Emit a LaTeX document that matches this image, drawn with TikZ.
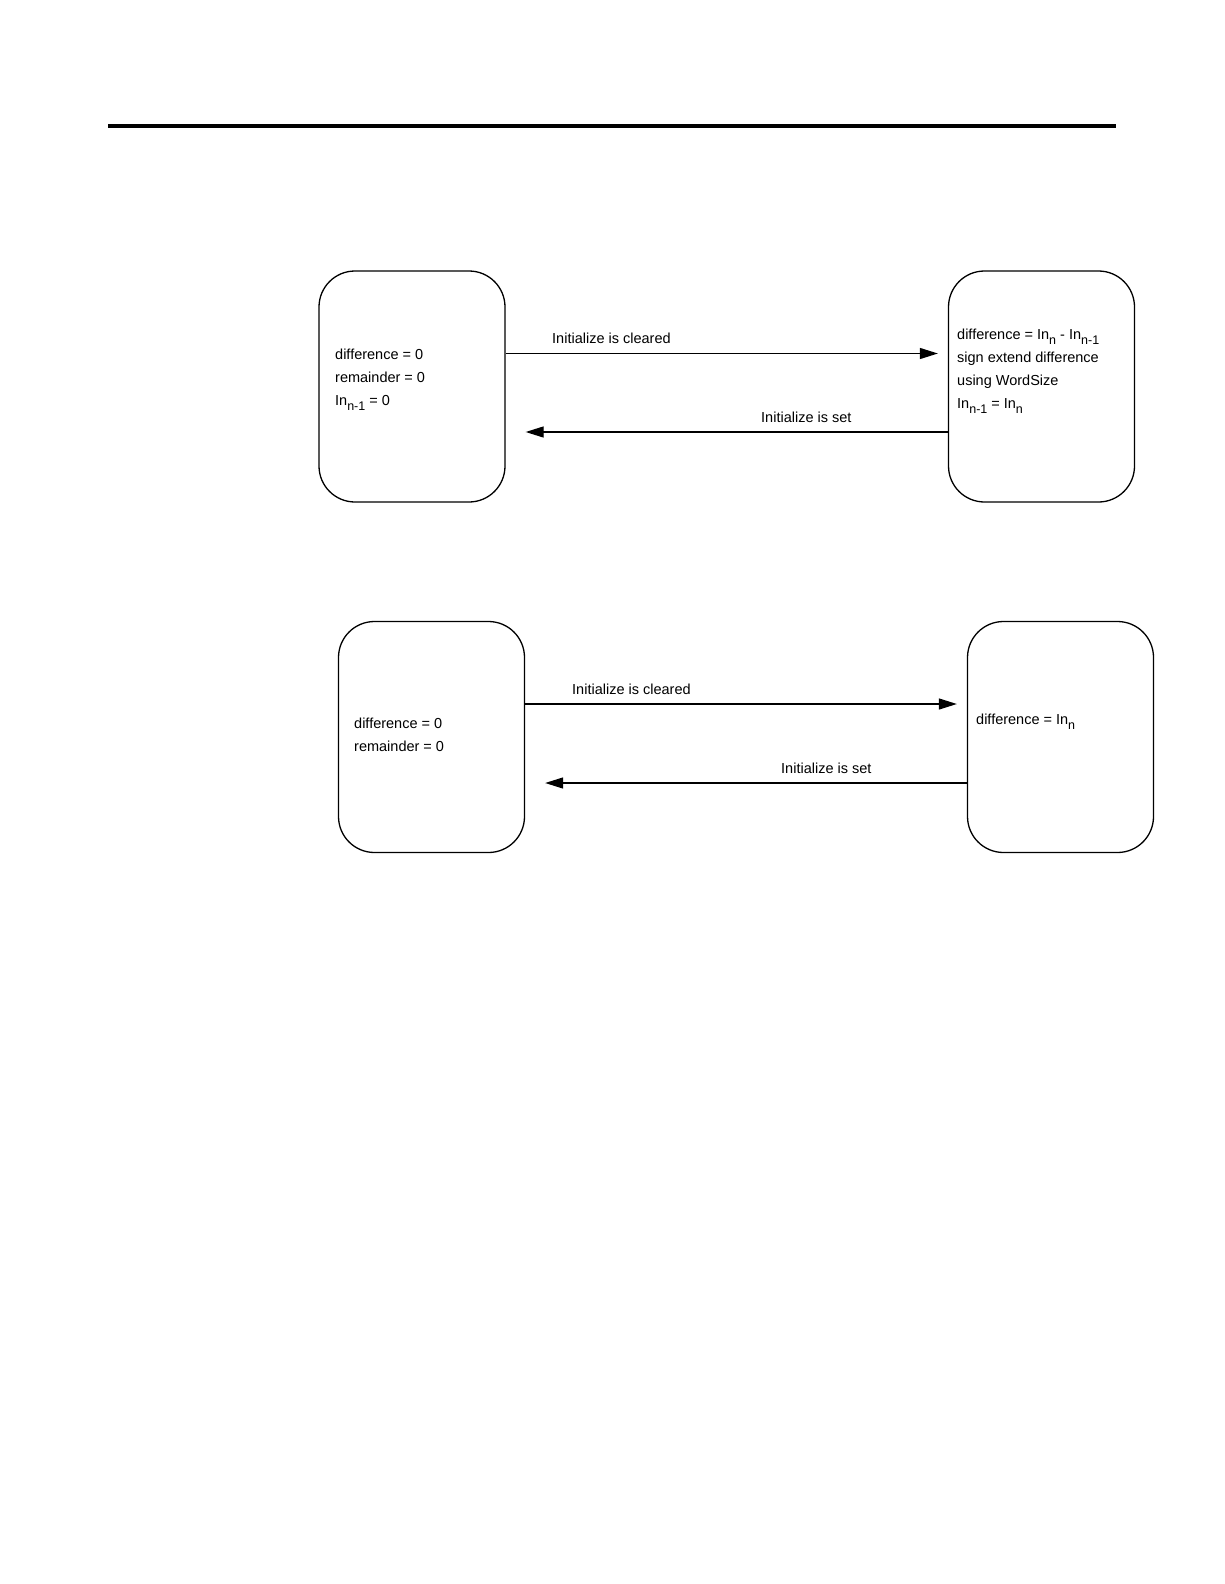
\documentclass[tikz,border=0pt]{standalone}
\usepackage{fontspec}
\setmainfont{Liberation Sans}
\usetikzlibrary{arrows.meta,positioning}

\newcommand{\lowidx}[1]{\raisebox{-0.6ex}{\fontsize{12.5}{12.5}\selectfont #1}}

\begin{document}
\begin{tikzpicture}[x=1pt, y=-1pt, >={Triangle[length=18pt,width=11pt]},
  every node/.style={font=\fontsize{14.5}{23}\selectfont},
  state/.style={draw, line width=1.3pt, rounded corners=36pt,
    minimum width=186pt, minimum height=231pt, inner sep=0pt},
  txt/.style={anchor=west, align=left, inner sep=0pt},
  flow/.style={->, line width=1.3pt}]
  \useasboundingbox (0,0) rectangle (1224,1584);

  % header rule
  \draw[line width=4pt] (108,126) -- (1116,126);

  % first diagram
  \node[state] (initA) at (412,386.5) {};
  \node[state] (runA) at (1041.5,386.5) {};
  \node[txt] (initAtxt) at (335,380) {difference = 0\\ remainder = 0\\ In\lowidx{n-1} = 0};
  \node[txt] (runAtxt) at (957,371) {difference = In\lowidx{n} - In\lowidx{n-1}\\ sign extend difference\\ using WordSize\\ In\lowidx{n-1} = In\lowidx{n}};
  \draw[flow, shorten >=10pt] ([yshift=33pt]initA.east) -- ([yshift=33pt]runA.west);
  \draw[flow, shorten >=20pt] ([yshift=-45.5pt]runA.west) -- ([yshift=-45.5pt]initA.east);
  \node[txt] (clrA) at (552,338) {Initialize is cleared};
  \node[txt] (setA) at (761,417) {Initialize is set};

  % second diagram
  \node[state] (initB) at (431.5,737) {};
  \node[state] (runB) at (1060.5,737) {};
  \node[txt] (initBtxt) at (354,735) {difference = 0\\ remainder = 0};
  \node[txt] (runBtxt) at (976,722) {difference = In\lowidx{n}};
  \draw[flow, shorten >=10pt] ([yshift=33pt]initB.east) -- ([yshift=33pt]runB.west);
  \draw[flow, shorten >=20pt] ([yshift=-46pt]runB.west) -- ([yshift=-46pt]initB.east);
  \node[txt] (clrB) at (572,689) {Initialize is cleared};
  \node[txt] (setB) at (781,768) {Initialize is set};
\end{tikzpicture}
\end{document}
